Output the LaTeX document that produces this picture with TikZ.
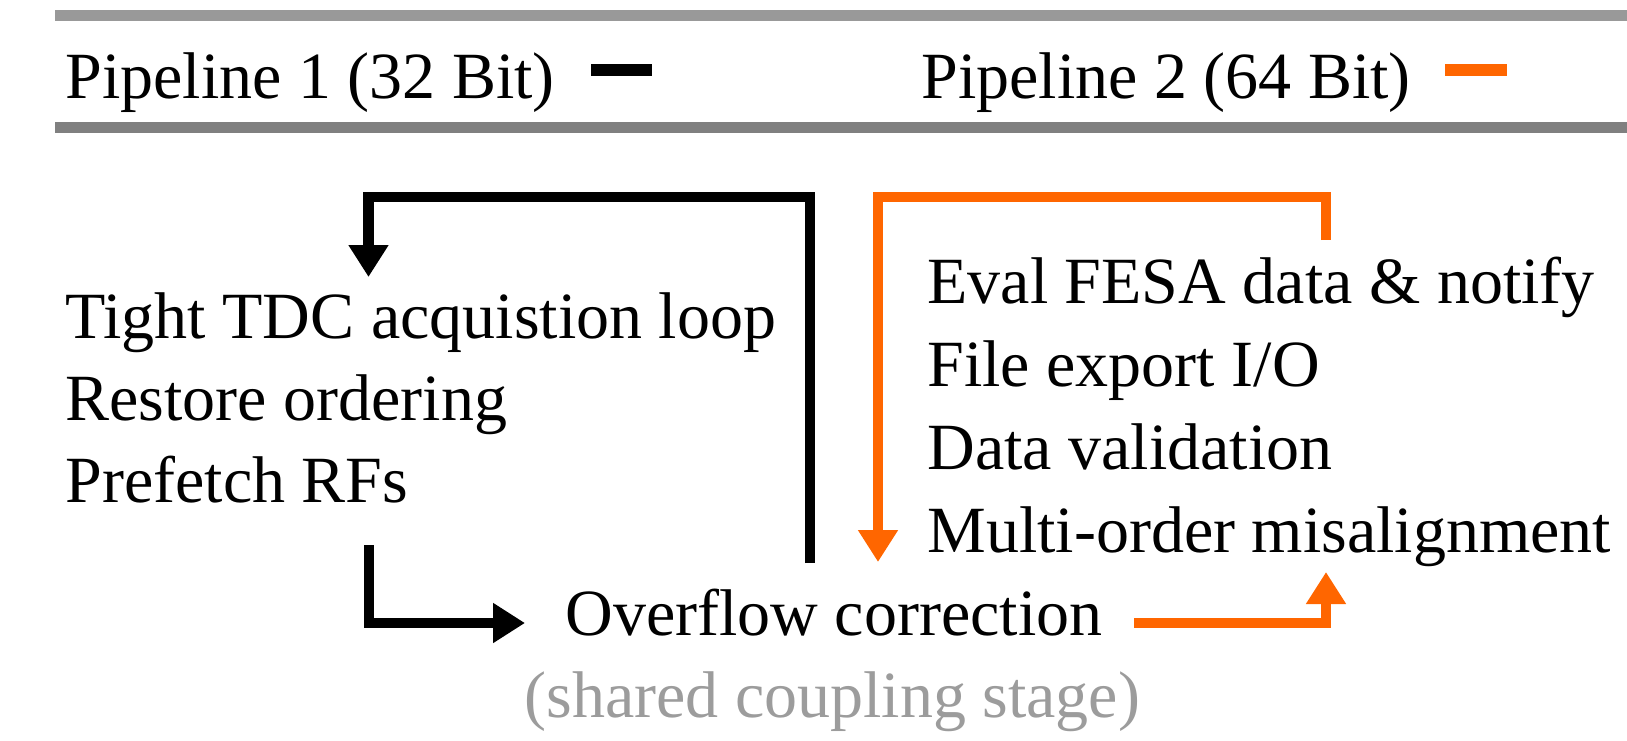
\documentclass[tikz,border=0pt]{standalone}
\usepackage{fontspec}
\setmainfont{Liberation Serif}
\usetikzlibrary{arrows.meta}
\definecolor{pipeorange}{HTML}{FF6600}
\definecolor{barlight}{HTML}{999999}
\definecolor{bardark}{HTML}{808080}
\definecolor{notegray}{HTML}{9C9C9C}

\begin{document}
\begin{tikzpicture}[x=0.5pt,y=-0.5pt,
  txt/.style={anchor=base west,inner sep=0pt,font=\fontsize{33}{40}\selectfont},
  flow/.style={line width=5.25pt,line join=miter,-{Triangle[width=19pt,length=16pt]}},
  flowA/.style={flow,black},
  flowB/.style={flow,pipeorange}]
\useasboundingbox (0,0) rectangle (1627,740);

%header bars
\fill[barlight] (55,10) rectangle (1627,21);
\fill[bardark] (55,122) rectangle (1627,133);

%legend
\node[txt] (legA) at (65,98) {Pipeline 1 (32 Bit)};
\node[txt] (legB) at (921,98) {Pipeline 2 (64 Bit)};
\fill[black] (591,64) rectangle (652,76);
\fill[pipeorange] (1445,64) rectangle (1507,76);

%pipeline 1 tasks
\node[txt] (tight) at (65,338) {Tight TDC acquistion loop};
\node[txt] (restore) at (65,420) {Restore ordering};
\node[txt] (prefetch) at (65,502) {Prefetch RFs};

%pipeline 2 tasks
\node[txt] (eval) at (927,303) {Eval FESA data \& notify};
\node[txt] (export) at (927,386) {File export I/O};
\node[txt] (valid) at (927,469) {Data validation};
\node[txt] (misalign) at (927,552) {Multi-order misalignment};

%coupling stage
\node[txt] (overflow) at (565,635) {Overflow correction};
\node[txt,text=notegray] (shared) at (524,717) {(shared coupling stage)};

%loop ends
\coordinate (Aout) at (810,563);
\coordinate (Ain) at (368.5,277);
\coordinate (Aup) at (369,545);
\coordinate (Aover) at (525,623);
\coordinate (Bout) at (1326,240);
\coordinate (Bin) at (878,562);
\coordinate (Bover) at (1134,623);
\coordinate (Bup) at (1326,572);

\draw[flowA] (Aout) -- (Aout |- 0,197) -| (Ain);
\draw[flowA] (Aup) |- (Aover);
\draw[flowB] (Bout) -- (Bout |- 0,197) -| (Bin);
\draw[flowB] (Bover) -| (Bup);

\end{tikzpicture}
\end{document}
